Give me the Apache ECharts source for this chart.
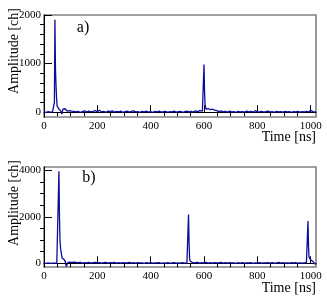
<!DOCTYPE html>
<html><head><meta charset="utf-8">
<script src="https://cdn.jsdelivr.net/npm/echarts@6/dist/echarts.min.js"></script>
<style>html,body{margin:0;padding:0;background:#fff}#c{width:327px;height:299px}</style>
</head><body><div id="c"></div>
<script>
// Panel a) waveform
const timeA = [0,8,16,24,32,37,39,41,43,45,47,49,51,53,55,57,59,61,63,65,67,69,71,73,75,77,79,81,84,88,92,96,100,104,108,112,116,120,128,136,144,152,160,168,176,184,192,200,208,216,224,232,240,248,256,264,272,280,288,296,304,312,320,328,336,344,352,360,368,376,384,392,400,408,416,424,432,440,448,456,464,472,480,488,496,504,512,520,528,536,544,552,560,568,576,584,590,594,598,600,602,604,606,608,610,612,616,620,624,628,632,636,640,644,648,656,664,672,680,688,696,704,712,720,728,736,744,752,760,768,776,784,792,800,808,816,824,832,840,848,856,864,872,880,888,896,904,912,920,928,936,944,952,960,968,976,984,992,996,1000,1008,1016,1020];
const ampA  = [5,-3,8,2,6,10,200,1900,900,560,300,130,100,120,70,90,40,60,20,-20,-40,10,60,30,50,20,70,40,60,20,50,30,60,20,45,15,30,5,15,-5,10,25,0,20,5,15,30,10,40,5,15,-5,20,10,25,0,15,5,20,-5,10,20,0,15,25,5,10,-5,15,5,20,0,10,-5,15,5,20,0,10,15,-5,10,5,20,0,10,15,-5,10,20,5,15,0,25,10,30,15,20,40,980,420,150,120,60,90,40,70,30,50,20,60,25,40,15,30,10,25,5,15,0,20,5,10,-5,15,5,10,0,20,5,15,0,30,10,5,15,0,10,20,5,10,-5,15,5,10,0,15,5,10,-5,10,5,15,0,10,5,15,5,20,40,10,5,10];
// Panel b) waveform
const timeB = [0,8,16,24,32,40,48,52,54,56,58,60,62,64,66,68,70,72,74,76,78,80,82,84,86,88,90,92,96,100,104,108,112,116,120,128,136,144,152,160,168,176,184,192,200,208,216,224,232,240,248,256,264,272,280,288,296,304,312,320,328,336,344,352,360,368,376,384,392,400,408,416,424,432,440,448,456,464,472,480,488,496,504,512,520,528,536,540,542,544,546,548,550,554,558,562,566,570,576,584,592,600,608,616,624,632,640,648,656,664,672,680,688,696,704,712,720,728,736,744,752,760,768,776,784,792,800,808,816,824,832,840,848,856,864,872,880,888,896,904,912,920,928,936,944,952,960,968,976,984,988,990,992,994,996,1000,1004,1008,1012,1016,1020];
const ampB  = [10,-5,15,0,10,5,15,10,40,3960,2000,1000,650,600,350,230,250,180,200,150,170,60,-50,-140,-60,20,60,30,50,20,40,25,50,10,35,20,45,10,30,15,35,10,25,40,15,30,10,25,40,5,30,15,35,10,25,5,30,15,20,40,10,25,5,30,15,20,0,25,10,30,5,20,15,30,0,20,10,25,5,15,30,10,20,5,25,10,20,40,2100,900,200,100,60,40,20,50,30,15,40,10,30,20,35,10,25,5,30,15,20,40,10,25,5,30,15,20,0,25,10,30,5,20,15,25,0,20,10,30,5,20,15,25,10,30,5,20,40,10,25,5,20,10,30,15,25,5,20,10,15,20,60,1820,700,250,200,150,120,80,30,-40,10];
// Axis ticks
const xTicks = [0,200,400,600,800,1000];
const xMinor = [50,100,150,250,300,350,450,500,550,650,700,750,850,900,950];
const yTicksA = [0,1000,2000];
const yMinorA = [200,400,600,800,1200,1400,1600,1800];
const yTicksB = [0,2000,4000];
const yMinorB = [500,1000,1500,2500,3000,3500];

const FONT = '"Liberation Serif", "DejaVu Serif", serif';
const LINE = '#0c0c9a';

function pairs(t, v){ return t.map((x,i)=>[x, v[i]]); }
const plain = v => String(v);

function xAxes(gi){
  return [
    {gridIndex:gi, type:'value', min:0, max:1020,
     axisLine:{show:true, lineStyle:{color:'#000', width:1}},
     axisTick:{show:true, inside:true, length:7, customValues:xTicks, lineStyle:{color:'#000'}},
     axisLabel:{customValues:xTicks, formatter:plain, fontFamily:FONT, fontSize:11, color:'#000', margin:4},
     splitLine:{show:false}},
    {gridIndex:gi, type:'value', min:0, max:1020,
     axisLine:{show:false},
     axisTick:{show:true, inside:true, length:4, customValues:xMinor, lineStyle:{color:'#000'}},
     axisLabel:{show:false}, splitLine:{show:false}}
  ];
}
function yAxes(gi, mn, mx, major, minor){
  return [
    {gridIndex:gi, type:'value', min:mn, max:mx,
     axisLine:{show:true, lineStyle:{color:'#000', width:1}},
     axisTick:{show:true, inside:true, length:8, customValues:major, lineStyle:{color:'#000'}},
     axisLabel:{customValues:major, formatter:plain, fontFamily:FONT, fontSize:11, color:'#000', margin:3},
     splitLine:{show:false}},
    {gridIndex:gi, type:'value', min:mn, max:mx,
     axisLine:{show:false},
     axisTick:{show:true, inside:true, length:4, customValues:minor, lineStyle:{color:'#000'}},
     axisLabel:{show:false}, splitLine:{show:false}}
  ];
}

const chart = echarts.init(document.getElementById('c'), null, {renderer:'canvas'});
chart.setOption({
  animation:false,
  backgroundColor:'#fff',
  grid:[
    {left:44, top:15, width:272, height:102, show:true, borderColor:'#808080', borderWidth:1.6, backgroundColor:'transparent'},
    {left:44, top:167, width:272, height:100, show:true, borderColor:'#808080', borderWidth:1.6, backgroundColor:'transparent'}
  ],
  xAxis:[...xAxes(0), ...xAxes(1)],
  yAxis:[...yAxes(0,-100,2000,yTicksA,yMinorA), ...yAxes(1,-160,4140,yTicksB,yMinorB)],
  series:[
    {type:'line', xAxisIndex:0, yAxisIndex:0, data:pairs(timeA, ampA), showSymbol:false, symbol:'none',
     lineStyle:{color:LINE, width:1.3}},
    {type:'line', xAxisIndex:2, yAxisIndex:2, data:pairs(timeB, ampB), showSymbol:false, symbol:'none',
     lineStyle:{color:LINE, width:1.3}}
  ],
  graphic:[
    {type:'text', x:14, y:51, rotation:Math.PI/2, style:{text:'Amplitude [ch]', font:'14px '+FONT, fill:'#000', textAlign:'center', textVerticalAlign:'middle'}},
    {type:'text', x:14, y:203, rotation:Math.PI/2, style:{text:'Amplitude [ch]', font:'14px '+FONT, fill:'#000', textAlign:'center', textVerticalAlign:'middle'}},
    {type:'text', x:316, y:137, style:{text:'Time [ns]', font:'14px '+FONT, fill:'#000', textAlign:'right', textVerticalAlign:'middle'}},
    {type:'text', x:316, y:288, style:{text:'Time [ns]', font:'14px '+FONT, fill:'#000', textAlign:'right', textVerticalAlign:'middle'}},
    {type:'text', x:83, y:28, style:{text:'a)', font:'16px '+FONT, fill:'#000', textAlign:'center', textVerticalAlign:'middle'}},
    {type:'text', x:89, y:178, style:{text:'b)', font:'16px '+FONT, fill:'#000', textAlign:'center', textVerticalAlign:'middle'}}
  ]
});
</script>
</body></html>
